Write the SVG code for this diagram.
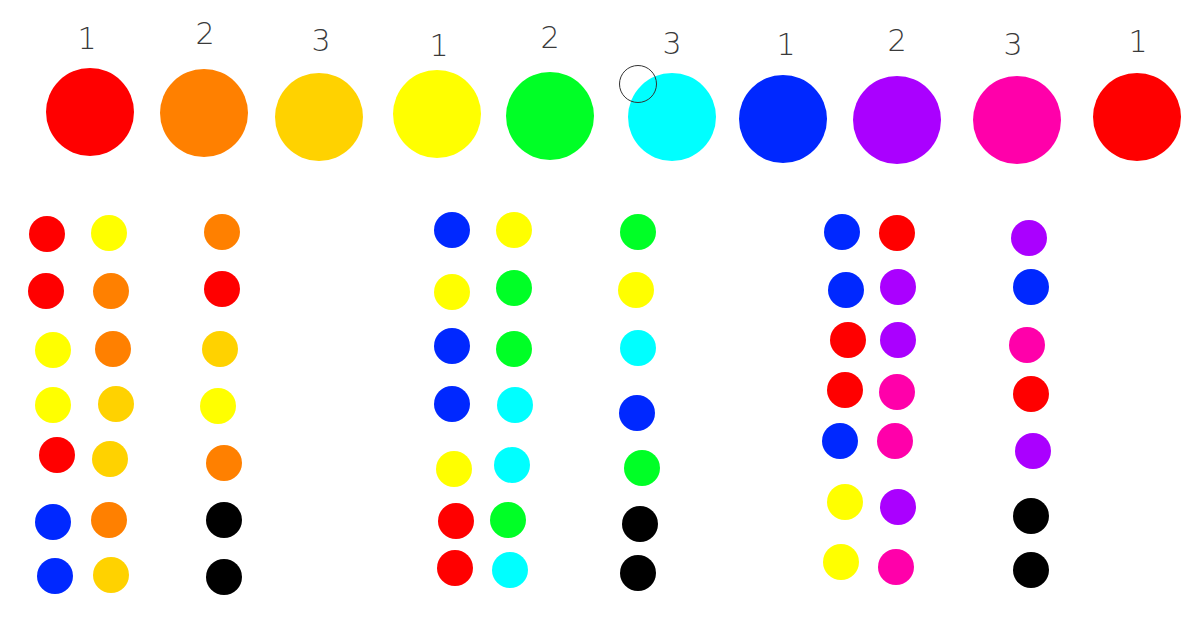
<svg xmlns="http://www.w3.org/2000/svg" width="1201" height="640" viewBox="0 0 1201 640">
<style>
.num{font-family:"DejaVu Sans","Liberation Sans",sans-serif;font-size:30px;fill:#3a3a3a;font-weight:200;text-anchor:middle}
.R{fill:#ff0000}.O{fill:#ff8000}.G{fill:#ffd200}.Y{fill:#ffff00}.Gr{fill:#00ff26}.C{fill:#00ffff}.B{fill:#0028ff}.P{fill:#aa00ff}.K{fill:#ff00aa}.X{fill:#000000}
</style>
<rect width="1201" height="640" fill="#ffffff"/>
<g id="labels">
<text class="num" x="87" y="49">1</text>
<text class="num" x="205" y="44">2</text>
<text class="num" x="321" y="51">3</text>
<text class="num" x="439" y="56">1</text>
<text class="num" x="550" y="48">2</text>
<text class="num" x="672" y="54">3</text>
<text class="num" x="786" y="55">1</text>
<text class="num" x="897" y="51">2</text>
<text class="num" x="1013" y="55">3</text>
<text class="num" x="1138" y="52">1</text>
</g>
<g id="big-circles">
<circle class="R" cx="90" cy="112" r="44"/>
<circle class="O" cx="204" cy="113" r="44"/>
<circle class="G" cx="319" cy="117" r="44"/>
<circle class="Y" cx="437" cy="114" r="44"/>
<circle class="Gr" cx="550" cy="116" r="44"/>
<circle class="C" cx="672" cy="117" r="44"/>
<circle class="B" cx="783" cy="119" r="44"/>
<circle class="P" cx="897" cy="120" r="44"/>
<circle class="K" cx="1017" cy="120" r="44"/>
<circle class="R" cx="1137" cy="117" r="44"/>
</g>
<g id="cursor">
<circle cx="638" cy="84" r="18.5" fill="none" stroke="#333" stroke-width="1"/>
</g>
<g id="group1">
<circle class="R" cx="47" cy="234" r="18"/>
<circle class="R" cx="46" cy="291" r="18"/>
<circle class="Y" cx="53" cy="350" r="18"/>
<circle class="Y" cx="53" cy="405" r="18"/>
<circle class="R" cx="57" cy="455" r="18"/>
<circle class="B" cx="53" cy="522" r="18"/>
<circle class="B" cx="55" cy="576" r="18"/>
<circle class="Y" cx="109" cy="233" r="18"/>
<circle class="O" cx="111" cy="291" r="18"/>
<circle class="O" cx="113" cy="349" r="18"/>
<circle class="G" cx="116" cy="404" r="18"/>
<circle class="G" cx="110" cy="459" r="18"/>
<circle class="O" cx="109" cy="520" r="18"/>
<circle class="G" cx="111" cy="575" r="18"/>
<circle class="O" cx="222" cy="232" r="18"/>
<circle class="R" cx="222" cy="289" r="18"/>
<circle class="G" cx="220" cy="349" r="18"/>
<circle class="Y" cx="218" cy="406" r="18"/>
<circle class="O" cx="224" cy="463" r="18"/>
<circle class="X" cx="224" cy="520" r="18"/>
<circle class="X" cx="224" cy="577" r="18"/>
</g>
<g id="group2">
<circle class="B" cx="452" cy="230" r="18"/>
<circle class="Y" cx="452" cy="292" r="18"/>
<circle class="B" cx="452" cy="346" r="18"/>
<circle class="B" cx="452" cy="404" r="18"/>
<circle class="Y" cx="454" cy="469" r="18"/>
<circle class="R" cx="456" cy="521" r="18"/>
<circle class="R" cx="455" cy="568" r="18"/>
<circle class="Y" cx="514" cy="230" r="18"/>
<circle class="Gr" cx="514" cy="288" r="18"/>
<circle class="Gr" cx="514" cy="349" r="18"/>
<circle class="C" cx="515" cy="405" r="18"/>
<circle class="C" cx="512" cy="465" r="18"/>
<circle class="Gr" cx="508" cy="520" r="18"/>
<circle class="C" cx="510" cy="570" r="18"/>
<circle class="Gr" cx="638" cy="232" r="18"/>
<circle class="Y" cx="636" cy="290" r="18"/>
<circle class="C" cx="638" cy="348" r="18"/>
<circle class="B" cx="637" cy="413" r="18"/>
<circle class="Gr" cx="642" cy="468" r="18"/>
<circle class="X" cx="640" cy="524" r="18"/>
<circle class="X" cx="638" cy="573" r="18"/>
</g>
<g id="group3">
<circle class="B" cx="842" cy="232" r="18"/>
<circle class="B" cx="846" cy="290" r="18"/>
<circle class="R" cx="848" cy="340" r="18"/>
<circle class="R" cx="845" cy="390" r="18"/>
<circle class="B" cx="840" cy="441" r="18"/>
<circle class="Y" cx="845" cy="502" r="18"/>
<circle class="Y" cx="841" cy="562" r="18"/>
<circle class="R" cx="897" cy="233" r="18"/>
<circle class="P" cx="898" cy="287" r="18"/>
<circle class="P" cx="898" cy="340" r="18"/>
<circle class="K" cx="897" cy="392" r="18"/>
<circle class="K" cx="895" cy="441" r="18"/>
<circle class="P" cx="898" cy="507" r="18"/>
<circle class="K" cx="896" cy="567" r="18"/>
<circle class="P" cx="1029" cy="238" r="18"/>
<circle class="B" cx="1031" cy="287" r="18"/>
<circle class="K" cx="1027" cy="345" r="18"/>
<circle class="R" cx="1031" cy="394" r="18"/>
<circle class="P" cx="1033" cy="451" r="18"/>
<circle class="X" cx="1031" cy="516" r="18"/>
<circle class="X" cx="1031" cy="570" r="18"/>
</g>
</svg>
